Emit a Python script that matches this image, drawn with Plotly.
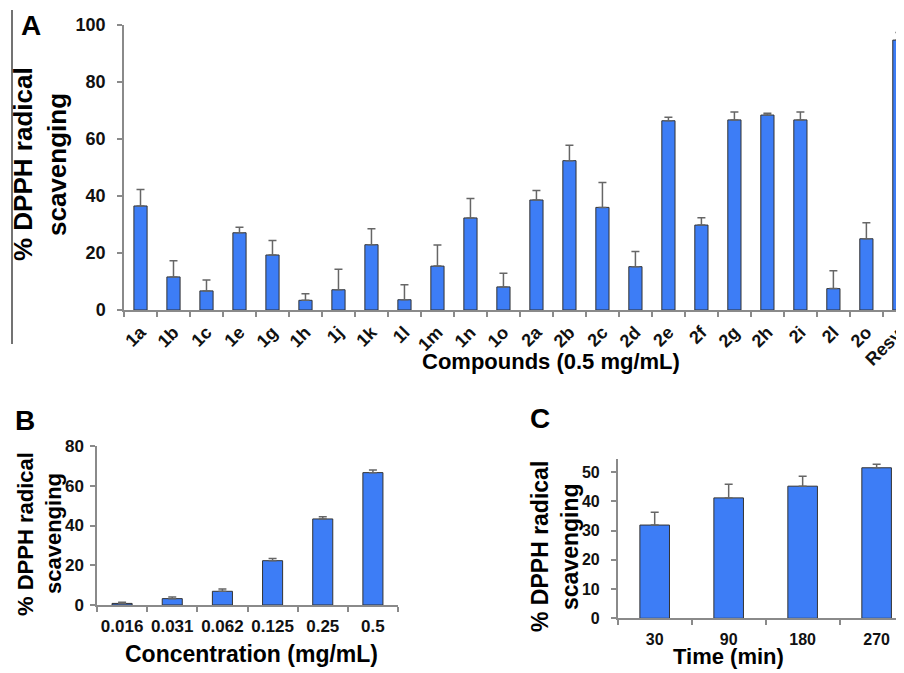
import plotly.graph_objects as go

# Panel A data
compounds = ["1a", "1b", "1c", "1e", "1g", "1h", "1j", "1k", "1l", "1m", "1n", "1o",
             "2a", "2b", "2c", "2d", "2e", "2f", "2g", "2h", "2i", "2l", "2o", "Resv."]
scav_a = [36.5, 11.6, 6.7, 27.1, 19.3, 3.4, 7.1, 22.9, 3.6, 15.4, 32.3, 8.1,
          38.6, 52.4, 36.0, 15.2, 66.4, 29.8, 66.7, 68.4, 66.7, 7.5, 25.0, 94.7]
err_a = [5.8, 5.7, 3.8, 1.9, 5.1, 2.3, 7.2, 5.6, 5.3, 7.4, 6.8, 4.8,
         3.3, 5.4, 8.7, 5.3, 1.2, 2.6, 2.8, 0.6, 2.8, 6.3, 5.6, 2.7]

# Panel B data
concentrations = ["0.016", "0.031", "0.062", "0.125", "0.25", "0.5"]
scav_b = [0.8, 3.2, 6.9, 22.3, 43.3, 66.6]
err_b = [0.6, 0.8, 1.1, 1.1, 1.1, 1.3]

# Panel C data
times = ["30", "90", "180", "270"]
scav_c = [31.9, 41.2, 45.2, 51.5]
err_c = [4.4, 4.7, 3.4, 1.2]

# the page body has an 8px margin, so the figure is placed at (8, 8) in the window
OFF = 8
W, H = 904 - OFF, 673 - OFF
FONT = "Liberation Sans, Arial, sans-serif"
BAR = "#3D7DF6"
AX = "#8a8a8a"

def px(x):
    return (x - OFF) / W

def py(y):
    return 1 - (y - OFF) / H

fig = go.Figure()

def add_bars(xs, ys, es, xa, ya):
    fig.add_trace(go.Bar(
        x=xs, y=ys, xaxis=xa, yaxis=ya, width=0.4,
        marker=dict(color=BAR, line=dict(color="#333333", width=1)),
        error_y=dict(type="data", array=es, arrayminus=[0] * len(es), symmetric=False,
                     color="#666666", thickness=1.5, width=4),
        showlegend=False, hoverinfo="skip"))

add_bars(compounds, scav_a, err_a, "x", "y")
add_bars(concentrations, scav_b, err_b, "x2", "y2")
add_bars(times, scav_c, err_c, "x3", "y3")

def xaxis(domain, rng, size, angle, standoff, anchor):
    return dict(domain=domain, type="category", range=rng, showline=True, linecolor=AX,
                linewidth=1.5, ticks="outside", ticklen=5, tickcolor=AX, tickwidth=1.5,
                tickson="boundaries", showgrid=False, zeroline=False, tickangle=angle,
                ticklabelstandoff=standoff, automargin=False, anchor=anchor,
                tickfont=dict(family=FONT, size=size, color="#111", weight="bold"),
                fixedrange=True)

def yaxis(domain, rng, dtick, size, anchor, standoff):
    return dict(domain=domain, range=rng, dtick=dtick, showline=True, linecolor=AX,
                linewidth=1.5, ticks="outside", ticklen=5, tickcolor=AX, tickwidth=1.5,
                showgrid=False, zeroline=False, anchor=anchor, ticklabelstandoff=standoff,
                automargin=False,
                tickfont=dict(family=FONT, size=size, color="#111", weight="bold"),
                fixedrange=True)

fig.update_layout(
    width=W, height=H, margin=dict(l=0, r=0, t=0, b=0, autoexpand=False),
    paper_bgcolor="white", plot_bgcolor="white", bargap=0.6,
    xaxis=xaxis([px(124), 1.0], [-0.5, 23.14], 18, -45, 3, "y"),
    yaxis=yaxis([py(310), py(25)], [0, 100], 20, 18, "x", 8),
    xaxis2=xaxis([px(97), px(398)], [-0.5, 5.5], 17, 0, 5, "y2"),
    yaxis2=yaxis([py(605), py(446)], [0, 80], 20, 17, "x2", 3),
    xaxis3=xaxis([px(617.7), 1.0], [-0.5, 3.37], 16, 0, 6, "y3"),
    yaxis3=yaxis([py(618.3), py(459)], [0, 54.5], 10, 16, "x3", 8),
)

def txt(text, x, y, size, angle=0):
    fig.add_annotation(text=text, x=px(x), y=py(y), xref="paper", yref="paper",
                       showarrow=False, textangle=angle, xanchor="center", yanchor="middle",
                       font=dict(family=FONT, size=size, color="#000", weight="bold"))

# panel letters
txt("A", 31, 25, 28)
txt("B", 25, 420, 28)
txt("C", 540, 418, 28)

# y titles
txt("% DPPH radical", 23, 164, 26, -90)
txt("scavenging", 57, 165, 26, -90)
txt("% DPPH radical", 25, 534, 22, -90)
txt("scavenging", 53, 534, 22, -90)
txt("% DPPH radical", 540, 547, 23, -90)
txt("scavenging", 570, 547, 23, -90)

# x titles
txt("Compounds (0.5 mg/mL)", 551, 361, 22)
txt("Concentration (mg/mL)", 251, 654, 23)
txt("Time (min)", 728, 656, 22)

# left border line of panel A
fig.add_shape(type="line", xref="paper", yref="paper", x0=px(12), x1=px(12),
              y0=py(10), y1=py(344), line=dict(color="#444444", width=1.5))

fig.write_html("out.html")
